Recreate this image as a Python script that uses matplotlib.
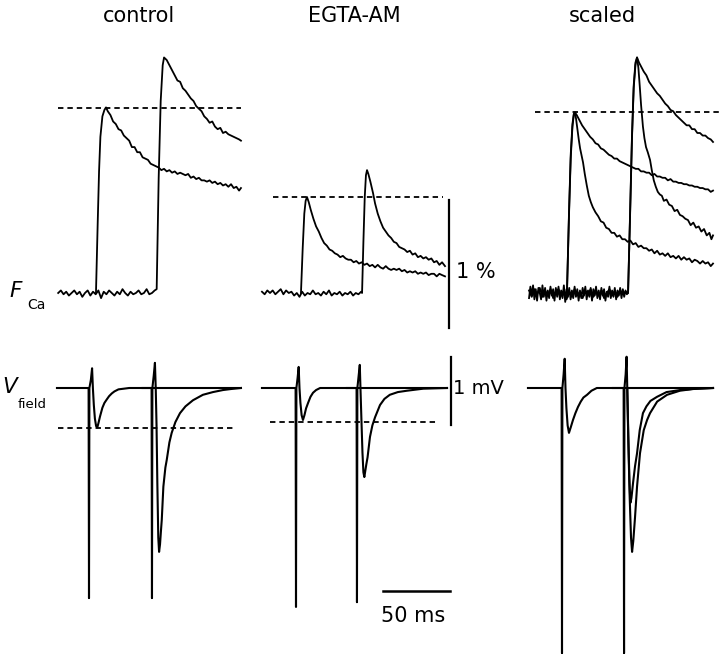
import numpy as np
import matplotlib.pyplot as plt

# time in ms after the 1st stimulus of each column, F_Ca in % dF/F, V_field in mV
# control
ctl_f1 = np.array([[5.2,0.00],[6.5,0.55],[7.5,0.95],[8.5,1.22],[10,1.38],[11.5,1.43],[12.7,1.45],[14,1.42],[16,1.39],[18,1.34],[20,1.32],[22,1.28],[24,1.27],[26,1.23],[28,1.21],[30,1.19],[32,1.14],[34,1.14],[36,1.10],[38,1.10],[40,1.06],[42,1.05],[44,1.04],[46,1.01],[48,1.00],[50,0.99],[52,0.98],[54,0.96],[56,0.97],[58,0.95],[60,0.96],[62,0.94],[64,0.95],[66,0.93],[68,0.94],[70,0.93],[72,0.92],[74,0.93],[76,0.90],[78,0.91],[80,0.89],[82,0.90],[84,0.88],[86,0.88],[88,0.87],[90,0.88],[92,0.86],[94,0.87],[96,0.85],[98,0.86],[100,0.84],[102,0.85],[104,0.83],[106,0.85],[108,0.82],[110,0.83],[112,0.80],[113.4,0.82]])
ctl_f2 = np.array([[-23,0.00],[-21,0.02],[-19,-0.01],[-17,0.01],[-15,-0.02],[-13,0.00],[-11,0.02],[-9,-0.01],[-7,0.01],[-5,-0.03],[-3,0.00],[-1,0.02],[1,-0.02],[3,0.01],[5,-0.01],[7,0.02],[9,-0.04],[11,0.01],[13,-0.01],[15,0.02],[17,0.00],[19,-0.02],[21,0.01],[23,-0.01],[25,0.03],[27,0.00],[29,-0.02],[31,0.01],[33,-0.01],[35,0.00],[37,0.02],[39,-0.01],[41,0.00],[43,0.03],[45,-0.01],[47,0.00],[49,0.02],[50.5,0.03],
                   [52,0.90],[53.5,1.50],[55,1.78],[56,1.84],[58,1.82],[60,1.78],[62,1.74],[64,1.70],[66,1.66],[68,1.65],[70,1.60],[72,1.58],[74,1.55],[76,1.52],[78,1.50],[80,1.46],[82,1.44],[84,1.42],[86,1.38],[88,1.36],[90,1.33],[92,1.34],[94,1.30],[96,1.28],[98,1.29],[100,1.25],[102,1.26],[104,1.24],[106,1.23],[108,1.22],[110,1.21],[112,1.20],[113.4,1.19]])
ctl_v1 = np.array([[-23.9,0.00],[-0.3,0.00],[0,-3.09],[0.3,0.00],[1.4,0.12],[2.3,0.29],[2.9,0.00],[3.6,-0.25],[4.4,-0.45],[5.3,-0.56],[6.2,-0.58],[7.0,-0.52],[8.2,-0.42],[10,-0.29],[11.5,-0.22],[13.2,-0.17],[15,-0.12],[17,-0.08],[19,-0.05],[22,-0.02],[26,-0.01],[30,0.00],[113.4,0.00]])
ctl_v2 = np.array([[40,0.00],[46.7,0.00],[47,-3.09],[47.3,0.00],[48.3,0.18],[49.2,0.37],[49.8,0.00],[50.4,-0.55],[51.0,-1.40],[51.7,-2.20],[52.3,-2.41],[53.0,-2.30],[53.7,-2.10],[54.3,-1.94],[55.5,-1.45],[57,-1.17],[58,-1.06],[60,-0.80],[61.7,-0.66],[64.5,-0.50],[67.9,-0.37],[72,-0.27],[77.6,-0.18],[85,-0.10],[92.5,-0.06],[100,-0.03],[106,-0.015],[113.4,0.00]])

# EGTA-AM
egta_f1 = np.array([[3.7,0.00],[5.0,0.35],[6.2,0.62],[7.2,0.72],[8.2,0.75],[9.5,0.71],[11,0.65],[13,0.58],[15,0.52],[17,0.48],[19,0.43],[21,0.39],[23,0.37],[25,0.34],[27,0.33],[29,0.31],[31,0.30],[33,0.28],[35,0.29],[37,0.27],[39,0.26],[41,0.26],[43,0.24],[45,0.25],[47,0.23],[49,0.24],[51,0.22],[53,0.23],[55,0.21],[57,0.22],[59,0.20],[61,0.22],[63,0.20],[65,0.19],[67,0.21],[69,0.19],[71,0.18],[73,0.19],[75,0.18],[77,0.19],[79,0.17],[81,0.18],[83,0.16],[85,0.17],[87,0.16],[89,0.17],[91,0.15],[93,0.16],[95,0.15],[97,0.16],[99,0.14],[101,0.15],[103,0.15],[105,0.13],[107,0.15],[109,0.14],[111.2,0.13]])
egta_f2 = np.array([[-25.4,0.01],[-23.4,-0.01],[-21.4,0.02],[-19.4,0.00],[-17.4,0.02],[-15.4,-0.01],[-13.4,0.01],[-11.4,0.03],[-9.4,-0.01],[-7.4,0.02],[-5.4,0.00],[-3.4,0.01],[-1.4,-0.02],[0.6,0.00],[2.6,-0.03],[4.6,0.01],[6.6,-0.02],[8.6,0.00],[10.6,-0.01],[12.6,0.02],[14.6,-0.01],[16.6,0.00],[18.6,-0.02],[20.6,0.01],[22.6,-0.01],[24.6,0.02],[26.6,-0.02],[28.6,0.00],[30.6,-0.01],[32.6,0.01],[34.6,-0.02],[36.6,0.00],[38.6,-0.01],[40.6,0.01],[42.6,-0.02],[44.6,0.00],[46.6,-0.01],[48.6,0.01],
                    [49.3,0.00],[50.3,0.40],[51.3,0.75],[52.2,0.92],[53,0.96],[54,0.93],[55.5,0.87],[57.5,0.78],[59,0.70],[61,0.62],[63,0.56],[65,0.51],[67,0.48],[69,0.45],[71,0.43],[73,0.40],[75,0.39],[77,0.36],[79,0.35],[81,0.34],[83,0.32],[85,0.33],[87,0.30],[89,0.31],[91,0.28],[93,0.29],[95,0.27],[97,0.28],[99,0.26],[101,0.27],[103,0.24],[105,0.25],[107,0.22],[109,0.24],[111.2,0.21]])
egta_v1 = np.array([[-25.4,0.00],[-0.3,0.00],[0,-3.22],[0.3,0.00],[1.2,0.15],[2.0,0.31],[2.6,0.00],[3.3,-0.22],[4.2,-0.40],[5.2,-0.47],[6.3,-0.40],[7.5,-0.30],[9,-0.22],[10.8,-0.13],[12.7,-0.07],[15,-0.03],[18,0.00],[112.7,0.00]])
egta_v2 = np.array([[38,0.00],[45.2,0.00],[45.5,-3.15],[45.8,0.00],[46.7,0.17],[47.6,0.34],[48.1,0.00],[48.8,-0.45],[49.6,-0.95],[50.3,-1.24],[51.0,-1.31],[51.7,-1.22],[52.5,-1.12],[53.4,-1.02],[55.2,-0.72],[57,-0.55],[59,-0.43],[62.7,-0.25],[66,-0.16],[70,-0.10],[76,-0.06],[82.8,-0.04],[95,-0.01],[112.7,0.00]])

# scaled: control (slow) and EGTA-AM scaled to control peak (fast)
sc_f1 = np.array([[3.7,0.00],[5.2,0.60],[6.5,1.05],[7.8,1.30],[8.8,1.39],[9.7,1.41],[11,1.39],[13,1.35],[15,1.31],[17,1.28],[19,1.25],[21,1.22],[23,1.20],[25,1.17],[27,1.16],[29,1.13],[31,1.12],[33,1.10],[35,1.08],[37,1.07],[39,1.05],[41,1.05],[43,1.03],[45,1.02],[47,1.01],[49,1.00],[51,0.99],[53,0.98],[55,0.97],[57,0.97],[59,0.95],[61,0.95],[63,0.94],[65,0.94],[67,0.92],[69,0.93],[71,0.91],[73,0.91],[75,0.90],[77,0.90],[79,0.88],[81,0.89],[83,0.87],[85,0.87],[87,0.86],[89,0.86],[91,0.85],[93,0.85],[95,0.84],[97,0.84],[99,0.83],[101,0.83],[103,0.82],[105,0.82],[107,0.81],[109,0.81],[111,0.79],[112.7,0.80]])
sc_f1e = np.array([[3.7,0.00],[5.2,0.62],[6.5,1.08],[7.8,1.32],[8.8,1.40],[9.7,1.41],[10.5,1.36],[11.5,1.28],[12.5,1.20],[13.5,1.13],[14.5,1.08],[15.7,1.02],[17,0.93],[18.5,0.84],[20,0.76],[21.5,0.71],[23,0.67],[25,0.63],[27,0.60],[29,0.56],[31,0.55],[33,0.51],[35,0.50],[37,0.47],[39,0.47],[41,0.44],[43,0.45],[45,0.42],[47,0.42],[49,0.40],[51,0.41],[53,0.38],[55,0.39],[57,0.36],[59,0.37],[61,0.35],[63,0.35],[65,0.33],[67,0.34],[69,0.31],[71,0.33],[73,0.30],[75,0.31],[77,0.29],[79,0.31],[81,0.28],[83,0.29],[85,0.27],[87,0.29],[89,0.26],[91,0.28],[93,0.26],[95,0.27],[97,0.24],[99,0.26],[101,0.25],[103,0.23],[105,0.25],[107,0.23],[109,0.24],[111,0.21],[112.7,0.23]])
sc_f2 = np.array([[-24.6,0.02],[-22.6,-0.03],[-20.6,0.03],[-18.6,-0.01],[-16.6,0.04],[-14.6,-0.03],[-12.6,0.02],[-10.6,-0.02],[-8.6,0.03],[-6.6,-0.04],[-4.6,0.01],[-2.6,0.03],[-0.6,-0.02],[1.4,0.02],[3.4,-0.05],[5.4,0.01],[7.4,-0.03],[9.4,0.03],[11.4,-0.02],[13.4,0.01],[15.4,-0.04],[17.4,0.02],[19.4,-0.01],[21.4,0.03],[23.4,-0.03],[25.4,0.01],[27.4,-0.02],[29.4,0.02],[31.4,-0.04],[33.4,0.00],[35.4,0.03],[37.4,-0.02],[39.4,0.01],[41.4,-0.03],[43.4,0.02],[45.4,-0.01],[47.4,0.01],
                  [49.3,0.00],[50.8,0.60],[52.2,1.20],[53.5,1.60],[54.8,1.78],[56,1.84],[57.5,1.80],[59,1.77],[61,1.73],[63,1.70],[65,1.65],[67,1.62],[69,1.59],[71,1.56],[73,1.54],[75,1.51],[77,1.48],[79,1.46],[81,1.43],[83,1.42],[85,1.39],[87,1.37],[89,1.35],[91,1.33],[93,1.31],[95,1.31],[97,1.28],[99,1.28],[101,1.25],[103,1.25],[105,1.23],[107,1.23],[109,1.21],[111,1.20],[112.7,1.18]])
sc_f2e = np.array([[-24.6,-0.04],[-23.6,0.05],[-22.6,-0.02],[-21.6,0.06],[-20.6,-0.05],[-19.6,0.03],[-18.6,-0.06],[-17.6,0.04],[-16.6,0.00],[-15.6,-0.05],[-14.6,0.06],[-13.6,-0.03],[-12.6,0.04],[-11.6,-0.06],[-10.6,0.02],[-9.6,-0.04],[-8.6,0.05],[-7.6,-0.02],[-6.6,0.03],[-5.6,-0.06],[-4.6,0.04],[-3.6,-0.03],[-2.6,0.05],[-1.6,-0.05],[-0.6,0.02],[0.4,-0.04],[1.4,0.06],[2.4,-0.07],[3.4,0.03],[4.4,-0.03],[5.4,0.04],[6.4,-0.05],[7.4,0.02],[8.4,-0.04],[9.4,0.05],[10.4,-0.03],[11.4,0.03],[12.4,-0.06],[13.4,0.02],[14.4,-0.04],[15.4,0.04],[16.4,-0.02],[17.4,0.05],[18.4,-0.05],[19.4,0.02],[20.4,-0.03],[21.4,0.04],[22.4,-0.06],[23.4,0.03],[24.4,-0.02],[25.4,0.05],[26.4,-0.04],[27.4,0.02],[28.4,-0.05],[29.4,0.04],[30.4,-0.02],[31.4,0.03],[32.4,-0.06],[33.4,0.01],[34.4,-0.03],[35.4,0.05],[36.4,-0.04],[37.4,0.02],[38.4,-0.03],[39.4,0.04],[40.4,-0.05],[41.4,0.02],[42.4,-0.02],[43.4,0.04],[44.4,-0.04],[45.4,0.03],[46.4,-0.03],[47.4,0.02],[48.4,-0.01],
                   [49.3,0.00],[50.8,0.62],[52.2,1.22],[53.5,1.62],[54.8,1.80],[56,1.84],[57,1.76],[58,1.62],[59,1.47],[60.4,1.30],[61.5,1.21],[62.7,1.14],[64,1.10],[65.7,1.04],[67,0.96],[68.5,0.88],[70,0.83],[71.5,0.79],[73,0.77],[74.5,0.76],[76,0.72],[78,0.73],[80,0.69],[82,0.68],[84,0.64],[86,0.65],[88,0.61],[90,0.60],[92,0.58],[94,0.57],[96,0.53],[98,0.55],[100,0.51],[102,0.52],[104,0.48],[106,0.50],[108,0.45],[110,0.47],[111.5,0.42],[112.7,0.45]])
sc_v1 = np.array([[-25.4,0.00],[-0.3,0.00],[0,-3.90],[0.3,0.00],[1.2,0.20],[2.0,0.43],[2.6,0.00],[3.3,-0.30],[4.2,-0.55],[5.2,-0.66],[6.5,-0.58],[8.2,-0.47],[10,-0.37],[11.9,-0.28],[14,-0.20],[16,-0.14],[18.7,-0.10],[22,-0.04],[26,0.00],[112.7,0.00]])
sc_v2 = np.array([[38,0.00],[46.0,0.00],[46.3,-3.90],[46.6,0.00],[47.5,0.20],[48.2,0.46],[48.7,0.00],[49.5,-0.80],[50.5,-1.60],[51.5,-2.20],[52.3,-2.41],[53.2,-2.25],[54.5,-1.90],[56,-1.45],[58.2,-0.96],[61,-0.62],[63.5,-0.47],[65.7,-0.37],[71,-0.20],[78.4,-0.10],[88,-0.04],[97.8,-0.015],[112.7,0.00]])
sc_v2e = np.array([[48.7,0.00],[49.5,-0.70],[50.3,-1.35],[51.0,-1.69],[51.8,-1.62],[53,-1.40],[54.5,-1.15],[56,-0.96],[58,-0.62],[60.4,-0.37],[63,-0.27],[66,-0.19],[70.9,-0.13],[78,-0.06],[88.1,-0.03],[100,-0.01],[112.7,0.00]])

# dashed reference levels (peak of 1st response): (level, t start, t end)
f_peak = [(1.445, -23, 113.4), (0.75, -17.2, 109.7), (1.414, -20.1, 118)]
v_peak = [(-0.588, -23.1, 109.7), (-0.50, -19.4, 106)]

titles = ['control', 'EGTA-AM', 'scaled']

# layout: px per ms, px per %, px per mV (figure is 720 x 654 px)
W, H = 720, 654
px_ms, px_pct, px_mv = 1.34, 128.0, 68.0
col_t0 = [89 / px_ms, 296 / px_ms, 562 / px_ms]   # 1st stimulus of each column
f_zero, v_zero = 293, 388                         # pixel rows of the baselines

fig = plt.figure(figsize=(W / 100, H / 100), dpi=100)
axf = fig.add_axes([0, 0, 1, 1])
axv = fig.add_axes([0, 0, 1, 1])
for ax in (axf, axv):
    ax.set_xlim(0, W / px_ms)
    ax.axis('off')
    ax.patch.set_alpha(0)
axf.set_ylim((f_zero - H) / px_pct, f_zero / px_pct)
axv.set_ylim((v_zero - H) / px_mv, v_zero / px_mv)

f_traces = [[ctl_f2, ctl_f1], [egta_f2, egta_f1], [sc_f2, sc_f2e, sc_f1, sc_f1e]]
v_traces = [[ctl_v1, ctl_v2], [egta_v1, egta_v2], [sc_v1, sc_v2, sc_v2e]]

for i in range(3):
    t0 = col_t0[i]
    for tr in f_traces[i]:
        axf.plot(tr[:, 0] + t0, tr[:, 1], color='k', lw=1.3, solid_joinstyle='round')
    for tr in v_traces[i]:
        axv.plot(tr[:, 0] + t0, tr[:, 1], color='k', lw=1.5)
    lev, a, b = f_peak[i]
    axf.plot([a + t0, b + t0], [lev, lev], color='k', lw=1.3, ls=(0, (3, 2.2)))
    if i < 2:
        lev, a, b = v_peak[i]
        axv.plot([a + t0, b + t0], [lev, lev], color='k', lw=1.3, ls=(0, (3, 2.2)))

# scale bars in the EGTA-AM column
t0 = col_t0[1]
axf.plot([114.2 + t0] * 2, [-0.273, 0.727], color='k', lw=1.6)
axv.plot([115.7 + t0] * 2, [-0.544, 0.456], color='k', lw=1.6)
axv.plot([64.9 + t0, 114.9 + t0], [-2.985, -2.985], color='k', lw=1.8)

def fx(x):
    return x / W

def fy(y):
    return 1 - y / H

for name, xc in zip(titles, [138.5, 354, 602]):
    fig.text(fx(xc), fy(22), name, ha='center', va='baseline', fontsize=15)

fig.text(fx(9), fy(297), 'F', fontsize=15.5, style='italic', va='baseline')
fig.text(fx(27), fy(309), 'Ca', fontsize=10, va='baseline')
fig.text(fx(2), fy(393), 'V', fontsize=15.5, style='italic', va='baseline')
fig.text(fx(18), fy(408), 'field', fontsize=9.5, va='baseline')
fig.text(fx(456), fy(278), '1 %', fontsize=15, va='baseline')
fig.text(fx(453), fy(394), '1 mV', fontsize=14, va='baseline')
fig.text(fx(413), fy(622), '50 ms', fontsize=15, ha='center', va='baseline')

fig.savefig('out.png', dpi=100)
